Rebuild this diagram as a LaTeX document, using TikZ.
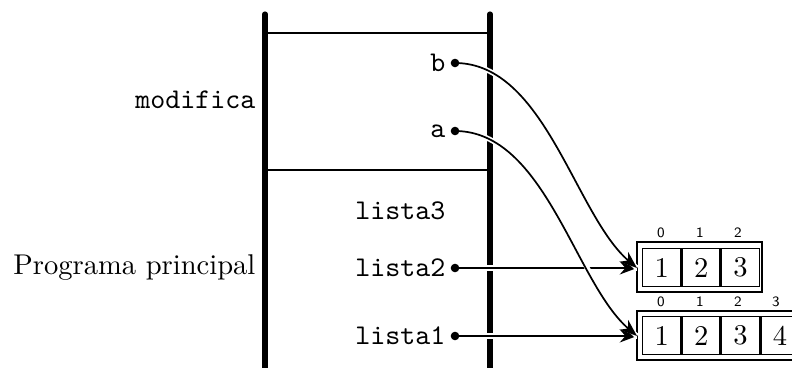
\documentclass[tikz,border=0pt]{standalone}
\usetikzlibrary{arrows.meta}
\begin{document}
\begin{tikzpicture}[x=0.35pt,y=-0.35pt,
  bar/.style={line width=1.8pt,line cap=round},
  sep/.style={line width=0.7pt},
  var/.style={font=\ttfamily,anchor=east,inner sep=0pt},
  dotnode/.style={circle,fill=black,inner sep=0pt,minimum size=3pt},
  ptr/.style={line width=0.6pt,-{Stealth[length=6pt,width=4.5pt]},preaction={draw=white,line width=1.8pt,-}},
  outerbox/.style={draw,line width=1pt},
  cell/.style={draw,line width=0.5pt,minimum width=38*0.35pt,minimum height=38*0.35pt,inner sep=0pt,anchor=west},
  idx/.style={font=\tiny\sffamily,inner sep=0pt}]
\useasboundingbox (0,0) rectangle (792,368);
% frame
\draw[bar] (265,14) -- (265,375);
\draw[bar] (490,14) -- (490,375);
\draw[sep] (265,33) -- (490,33);
\draw[sep] (265,170) -- (490,170);
% labels
\node[anchor=east,font=\ttfamily,inner sep=0pt] (modifica) at (256,100) {modifica};
\node[anchor=east,inner sep=0pt] (prog) at (256,268) {Programa principal};
\node[var] (b) at (446,63) {b};
\node[var] (a) at (446,131) {a};
\node[var] (l3) at (446,211) {lista3};
\node[var] (l2) at (446,268) {lista2};
\node[var] (l1) at (446,336) {lista1};
\coordinate (db) at (455,63);
\coordinate (da) at (455,131);
\coordinate (d2) at (455,268);
\coordinate (d1) at (455,336);
% array 1
\draw[outerbox] (637,242) rectangle (762,292);
\node[cell] (c10) at (642,267.5) {1};
\node[cell] (c11) at (c10.east) {2};
\node[cell] (c12) at (c11.east) {3};
\node[idx] at (661,233) {0};
\node[idx] at (700,233) {1};
\node[idx] at (738,233) {2};
\coordinate (A1) at (637,268);
% array 2
\draw[outerbox] (637,311) rectangle (800,360);
\node[cell] (c20) at (642,335.5) {1};
\node[cell] (c21) at (c20.east) {2};
\node[cell] (c22) at (c21.east) {3};
\node[cell] (c23) at (c22.east) {4};
\node[idx] at (661,302) {0};
\node[idx] at (700,302) {1};
\node[idx] at (738,302) {2};
\node[idx] at (776,302) {3};
\coordinate (A2) at (637,336);
% pointers
\draw[ptr] (d2) -- (A1);
\draw[ptr] (d1) -- (A2);
\draw[ptr] (db) .. controls (545,63) and (575,215) .. (A1);
\draw[ptr] (da) .. controls (545,131) and (575,283) .. (A2);
\foreach \d in {db,da,d2,d1} \fill (\d) circle (1.5pt);
\end{tikzpicture}
\end{document}
